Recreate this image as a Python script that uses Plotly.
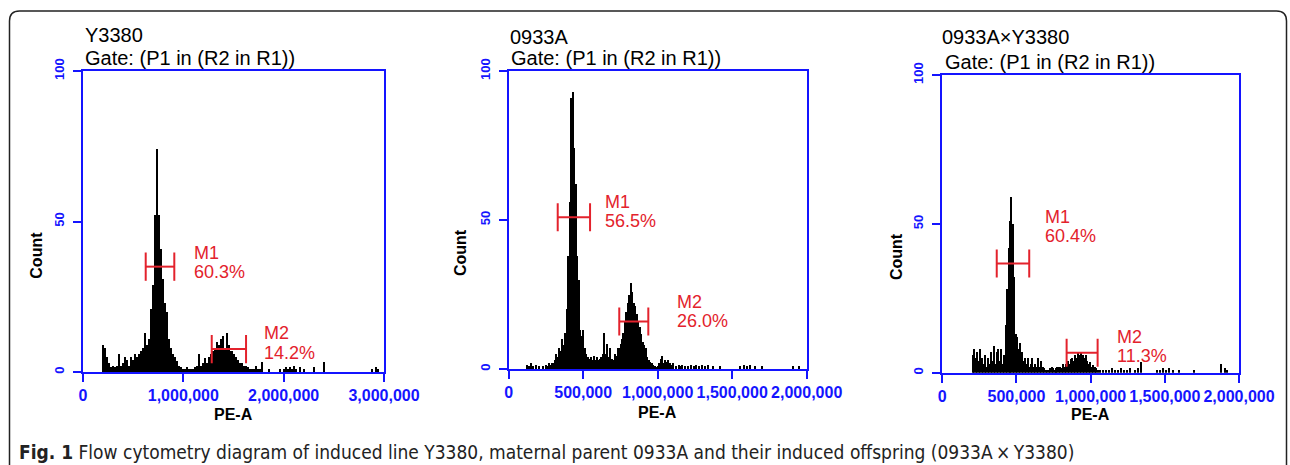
import plotly.graph_objects as go

# ---------------- data ----------------
titles = ["Y3380", "0933A", "0933A×Y3380"]
gate_text = "Gate: (P1 in (R2 in R1))"
x_max = [3_000_000, 2_000_000, 2_000_000]
x_dtick = [1_000_000, 500_000, 500_000]
bin_width = [20_000, 10_000, 10_000]

# PE-A channel (thousands) and counts
y3380_pe_k = [200,220,240,260,280,300,320,340,360,380,
              400,420,440,460,480,500,520,540,560,580,
              600,620,640,660,680,700,720,740,760,780,
              800,820,840,860,880,900,920,940,960,980,
              1000,1020,1040,1060,1080,1100,1120,1140,1160,1180,
              1200,1220,1240,1260,1280,1300,1320,1340,1360,1380,
              1400,1420,1440,1460,1480,1500,1520,1540,1560,1580,
              1600,1620,1640,1660,1680,1700,1720,1740,1760,1780,
              1850,1960,2000,2020,2040,2060,2080,2100,2120,2160,2200,2300,2400,2880,2920,2940]
y3380_count = [9,8,5,3,1.5,2,1.5,2,6,2,
               3,5,4,2,5,4,6,5,6,7,
               8,13,9,11,21,29,52,74,52,41,
               31,23,20,11,8,6,5,3.5,2,1.5,
               1,1,1.5,1,1,1,1.5,2,6,2,
               3,4.5,3,5,6,7,8,10,9,11,
               12,8,13,9,7,6,5,4,3,3,
               2,2,1.5,1,1,1,2,1,1,3.4,
               1,1,1,1.5,1,1.5,1,2,1,1.5,1,1.8,3.3,1,1.5,1]

a0933_pe_k = [120,135,150,165,180,200,230,250,260,270,280,290,
              300,310,320,330,340,350,360,370,380,390,
              400,410,420,430,440,450,460,470,480,490,
              500,510,520,530,540,550,560,570,580,590,
              600,610,620,630,640,650,660,670,680,690,
              700,710,720,730,740,750,760,770,780,790,
              800,810,820,830,840,850,860,870,880,890,
              900,910,920,930,940,950,960,970,980,990,
              1000,1010,1020,1030,1040,1050,1060,1070,1080,1090,1100,
              1120,1140,1150,1160,1180,1200,1220,1240,1260,1280,1300,1320,1340,1370,
              1420,1550,1580,1600,1620,1650,1700,1910,1950]
a0933_count = [1.5,1,2,1,1.5,1,1,1.5,1,2,1.5,2,
               2,3,5,4,7,6,10,8,12,20,
               38,56,91,93,74,62,38,30,13,11,
               13,7,5,4,3.5,4,3,4.5,3,4,
               3,3.5,4,5,12,5,8.5,4,7,3.5,
               3,5,4.5,7,7,8.5,10,12,16,19,
               22,25,29,26,22,21,18.5,16,14,11.7,
               9,8,7,4,3,2.5,2,1.5,1,0.5,
               1,2,3.5,4.5,2,3,2.5,3,2,1.5,2,
               1,1.5,1,1.5,1,1,1.5,1,1.5,1,1.5,1,1.5,1,
               1,1,1.5,1,1.5,1,1,1,1]

cross_pe_k = [210,220,230,240,250,260,270,280,290,300,
              310,320,330,340,350,360,370,380,390,400,
              410,420,430,440,450,460,470,480,490,500,
              510,520,530,540,550,560,570,580,590,600,
              610,620,630,640,650,660,670,680,690,700,
              710,720,730,740,750,760,770,780,790,800,
              810,820,830,840,850,860,870,880,890,900,
              910,920,930,940,950,960,970,980,990,1000,
              1010,1020,1030,1040,
              1050,1070,1090,1110,1130,1150,1170,1190,1210,1230,1250,1270,1300,1320,1345,
              1450,1470,1490,1510,1530,1560,1600,1700,1880,1910,1920]
cross_count = [6,8,5,7,4,8,5,3,6,2,
               5,3,7,4,9,3,7,8,4,8,
               3,6,16,28,42,51,59,50,32,13,
               12,8,10,7,4,5,3,5,2,3,
               5,2,3,2,5,2,4,2,1.5,1,
               1,1,1.5,2,1.5,1,1.5,2,2,2,
               1.5,3,2,3,4,3,4.5,5,4,6,
               5,7,6,7,6,5,6,4,3,3.5,
               2,2.5,2,1.5,
               1,1,1,1,1,1.5,1,1,1.5,1,1,1.5,1,1.5,3.5,
               1,1,1.5,1,1.5,1,1,1,3,1.5,1]

pe_k = [y3380_pe_k, a0933_pe_k, cross_pe_k]
counts = [y3380_count, a0933_count, cross_count]

# markers: name, low, high, level, percent, label x, name-label y, pct-label y
marker_names = [["M1", "M2"], ["M1", "M2"], ["M1", "M2"]]
marker_lo = [[625_000, 1_283_000], [329_000, 742_000], [367_000, 838_000]]
marker_hi = [[910_000, 1_625_000], [546_000, 937_000], [586_000, 1_047_000]]
marker_level = [[35, 7.6], [50.9, 15.9], [36.7, 6.7]]
marker_pct = [["60.3%", "14.2%"], ["56.5%", "26.0%"], ["60.4%", "11.3%"]]
marker_label_x = [[1_090_000, 1_780_000], [635_000, 1_116_000], [677_000, 1_164_000]]
marker_name_y = [[39.5, 12.8], [56, 22.6], [52.2, 11.9]]
marker_pct_y = [[33.3, 6.2], [49.8, 16.2], [45.9, 5.6]]

caption_bold = "Fig. 1"
caption_text = " Flow cytometry diagram of induced line Y3380, maternal parent 0933A and their induced offspring (0933A\u2009×\u2009Y3380)"

# ---------------- layout (pixels) ----------------
W, H = 1290, 465
plot_px = [(83, 384, 71, 372), (508.7, 806.7, 71, 369), (942.3, 1239, 75, 372.7)]
title_px = [(83, 35, 83, 58), (508.3, 36.7, 508.5, 58.3), (940, 37, 942.7, 62.3)]
count_px = [(36.7, 255), (460, 253), (896, 257)]
pea_px = [(233.5, 414), (658, 412), (1090, 414)]

BLUE = "#1414ff"
RED = "#e3222c"
FONT = "Liberation Sans, Arial, sans-serif"
TICK_HALF = 4.7

def px(x):
    return x / W

def py(y):
    return 1 - y / H

fig = go.Figure()
layout = dict(
    width=W, height=H, autosize=False, margin=dict(l=0, r=0, t=0, b=0, pad=0, autoexpand=False),
    paper_bgcolor="white", plot_bgcolor="white", showlegend=False,
    font=dict(family=FONT, color="black"), bargap=0,
)
annotations = []
shapes = []

for i in range(3):
    sfx = "" if i == 0 else str(i + 1)
    xa, ya = "x" + sfx, "y" + sfx
    x0, x1, y0, y1 = plot_px[i]
    fig.add_trace(go.Bar(
        x=[v * 1000 for v in pe_k[i]], y=counts[i], width=bin_width[i],
        marker=dict(color="black", line=dict(width=0)), xaxis=xa, yaxis=ya,
        hoverinfo="x+y"))
    for j in range(len(marker_names[i])):
        lo, hi, lv = marker_lo[i][j], marker_hi[i][j], marker_level[i][j]
        fig.add_trace(go.Scatter(
            x=[lo, hi, None, lo, lo, None, hi, hi],
            y=[lv, lv, None, lv - TICK_HALF, lv + TICK_HALF, None, lv - TICK_HALF, lv + TICK_HALF],
            mode="lines", line=dict(color=RED, width=2), xaxis=xa, yaxis=ya,
            hoverinfo="skip"))
        for txt, yy in ((marker_names[i][j], marker_name_y[i][j]), (marker_pct[i][j], marker_pct_y[i][j])):
            annotations.append(dict(
                x=marker_label_x[i][j], y=yy, xref=xa, yref=ya, text=txt, showarrow=False,
                xanchor="left", yanchor="middle",
                font=dict(family=FONT, size=18, color=RED)))
    layout["xaxis" + sfx] = dict(
        domain=[px(x0), px(x1)], anchor=ya, range=[0, x_max[i]], automargin=False,
        tickmode="linear", tick0=0, dtick=x_dtick[i], tickformat=",d", tickangle=0,
        showline=True, linecolor=BLUE, linewidth=2, mirror=True,
        ticks="outside", ticklen=8, tickwidth=2, tickcolor=BLUE,
        tickfont=dict(family=FONT, size=16, color=BLUE, weight="bold"),
        showgrid=False, zeroline=False, fixedrange=True)
    layout["yaxis" + sfx] = dict(
        domain=[py(y1), py(y0)], anchor=xa, range=[0, 100], automargin=False,
        tickmode="array", tickvals=[0, 50, 100], tickangle=-90, ticklabelstandoff=4,
        showline=True, linecolor=BLUE, linewidth=2, mirror=True,
        ticks="outside", ticklen=8, tickwidth=2, tickcolor=BLUE,
        tickfont=dict(family=FONT, size=13, color=BLUE, weight="bold"),
        showgrid=False, zeroline=False, fixedrange=True)

    tx, ty, gx, gy = title_px[i]
    annotations.append(dict(x=px(tx), y=py(ty), xref="paper", yref="paper", text=titles[i],
                            showarrow=False, xanchor="left", yanchor="middle",
                            font=dict(family=FONT, size=20, color="black")))
    annotations.append(dict(x=px(gx), y=py(gy), xref="paper", yref="paper", text=gate_text,
                            showarrow=False, xanchor="left", yanchor="middle",
                            font=dict(family=FONT, size=20, color="black")))
    cx, cy = count_px[i]
    annotations.append(dict(x=px(cx), y=py(cy), xref="paper", yref="paper", text="Count",
                            showarrow=False, textangle=-90, xanchor="center", yanchor="middle",
                            font=dict(family=FONT, size=16, color="black", weight="bold")))
    ex, ey = pea_px[i]
    annotations.append(dict(x=px(ex), y=py(ey), xref="paper", yref="paper", text="PE-A",
                            showarrow=False, xanchor="center", yanchor="middle",
                            font=dict(family=FONT, size=16, color="black", weight="bold")))

# caption
annotations.append(dict(x=px(17), y=py(451.5), xref="paper", yref="paper",
                        text="<b>" + caption_bold + "</b>" + caption_text,
                        showarrow=False, xanchor="left", yanchor="middle",
                        font=dict(family="Liberation Sans Narrow, DejaVu Sans Condensed, Arial Narrow, sans-serif",
                                  size=19, color="#222222")))

# rounded outer frame (bottom edge lies below the visible area)
L, R, T, B, rad = 9.5, 1286.5, 11, 468, 10
path = (f"M {px(L)},{py(T + rad)} Q {px(L)},{py(T)} {px(L + rad)},{py(T)} "
        f"L {px(R - rad)},{py(T)} Q {px(R)},{py(T)} {px(R)},{py(T + rad)} "
        f"L {px(R)},{py(B)} L {px(L)},{py(B)} Z")
shapes.append(dict(type="path", xref="paper", yref="paper", path=path,
                   line=dict(color="#222222", width=1.5), fillcolor="rgba(0,0,0,0)"))

layout["annotations"] = annotations
layout["shapes"] = shapes
fig.update_layout(**layout)
fig.write_html("out.html", config={"responsive": False, "displayModeBar": False},
               post_script="document.body.style.margin='0px';document.body.style.overflow='hidden';")
